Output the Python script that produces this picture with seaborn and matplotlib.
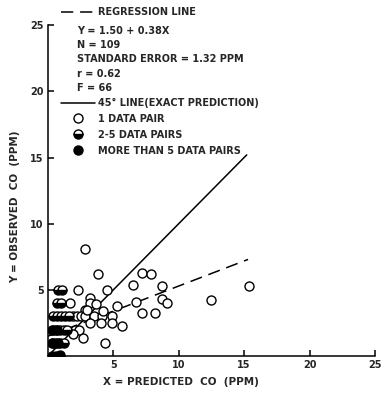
import matplotlib
matplotlib.use('Agg')
import matplotlib.pyplot as plt
import seaborn as sns
from matplotlib.lines import Line2D

# Single data pairs (open circles)
open_x = [2.8, 3.8, 2.3, 4.5, 1.7, 3.2, 3.2, 3.7, 2.8, 5.3, 6.5, 7.2, 7.85, 8.7,
          6.7, 8.7, 9.1, 7.2, 8.2, 12.5, 15.4, 5.7, 4.4, 2.65, 1.9, 2.2, 2.5,
          2.8, 3.5, 4.1, 4.9, 3.2, 4.05, 4.9, 2.1, 2.4, 3.0, 4.2, 1.9]
open_y = [8.1, 6.2, 5.0, 5.0, 4.0, 4.4, 4.0, 3.9, 3.5, 3.8, 5.4, 6.3, 6.2, 5.3,
          4.1, 4.3, 4.0, 3.25, 3.25, 4.2, 5.3, 2.3, 1.0, 1.4, 3.0, 3.0, 3.0,
          3.0, 3.0, 3.0, 3.0, 2.5, 2.5, 2.5, 2.0, 2.0, 3.5, 3.4, 1.7]

# 2-5 data pairs (half filled)
half_x = [0.8, 1.1, 0.7, 1.0, 0.4, 0.7, 1.0, 1.3, 1.6, 0.3, 0.6, 0.9, 1.2, 1.5,
          0.3, 0.6, 0.9, 1.2]
half_y = [5.0, 5.0, 4.0, 4.0, 3.0, 3.0, 3.0, 3.0, 3.0, 2.0, 2.0, 2.0, 2.0, 2.0,
          1.0, 1.0, 1.0, 1.0]

# more than 5 data pairs (filled)
full_x = [0.3, 0.6, 0.9, 0.4, 0.7, 0.4, 0.8]
full_y = [0.0, 0.0, 0.1, 2.0, 2.0, 1.0, 1.0]

# lines
reg_x = [0.0, 15.3]
reg_y = [1.5, 7.3]
exact_x = [0.0, 15.2]
exact_y = [0.0, 15.2]

ticks = [5, 10, 15, 20, 25]

sns.set_style('ticks')
plt.rcParams['font.family'] = ['DejaVu Sans']
plt.rcParams['font.weight'] = 'bold'

fig = plt.figure(figsize=(3.83, 3.93), dpi=100)
ax = fig.add_axes([0.125, 0.094, 0.854, 0.842])

lw = 1.1
dash = (0, (8, 4.5))
sns.lineplot(x=reg_x, y=reg_y, ax=ax, color='black', lw=lw, linestyle=dash)
sns.lineplot(x=exact_x, y=exact_y, ax=ax, color='black', lw=lw)

ms = 42
sns.scatterplot(x=open_x, y=open_y, ax=ax, s=ms, marker='o', facecolor='white',
                edgecolor='black', linewidth=1.0, zorder=3)
ax.plot(half_x, half_y, ls='none', marker='o', ms=6.5, fillstyle='bottom',
        mfc='black', mfcalt='white', mec='black', mew=1.0, zorder=4)
sns.scatterplot(x=full_x, y=full_y, ax=ax, s=ms, marker='o', color='black',
                edgecolor='black', linewidth=1.0, zorder=4)

ax.set_xlim(0, 25)
ax.set_ylim(0, 25)
ax.set_xticks(ticks)
ax.set_yticks(ticks)
ax.tick_params(direction='in', length=4, width=1.1, labelsize=7, pad=3, color='black')
for lab in ax.get_xticklabels() + ax.get_yticklabels():
    lab.set_fontweight('bold')
sns.despine(ax=ax)
for s in ['left', 'bottom']:
    ax.spines[s].set_linewidth(1.1)
    ax.spines[s].set_color('black')

ax.set_xlabel('X = PREDICTED  CO  (PPM)', fontsize=7.5, fontweight='bold')
ax.set_ylabel('Y = OBSERVED  CO  (PPM)', fontsize=7.5, fontweight='bold')
ax.xaxis.set_label_coords(0.407, -0.062)
ax.yaxis.set_label_coords(-0.085, 0.45)

fs = 7
leg1 = ax.legend(handles=[Line2D([], [], color='black', lw=lw, linestyle=dash)],
                 labels=['REGRESSION LINE'], loc='upper left', bbox_to_anchor=(0.04, 1.055),
                 frameon=False, borderpad=0, borderaxespad=0, handlelength=3.5,
                 handletextpad=0.3, prop={'size': fs, 'weight': 'bold'})
ax.add_artist(leg1)

stats = ['Y = 1.50 + 0.38X', 'N = 109', 'STANDARD ERROR = 1.32 PPM', 'r = 0.62', 'F = 66']
ax.text(0.089, 0.997, '\n'.join(stats), transform=ax.transAxes, va='top', ha='left',
        fontsize=fs, fontweight='bold', linespacing=1.52)

handles = [Line2D([], [], color='black', lw=lw),
           Line2D([], [], ls='none', marker='o', ms=6.5, mfc='white', mec='black', mew=1.0),
           Line2D([], [], ls='none', marker='o', ms=6.5, fillstyle='bottom', mfc='black',
                  mfcalt='white', mec='black', mew=1.0),
           Line2D([], [], ls='none', marker='o', ms=6.5, mfc='black', mec='black')]
labels = ['45\u00b0 LINE(EXACT PREDICTION)', '1 DATA PAIR', '2-5 DATA PAIRS',
          'MORE THAN 5 DATA PAIRS']
ax.legend(handles=handles, labels=labels, loc='upper left', bbox_to_anchor=(0.04, 0.78),
          frameon=False, borderpad=0, borderaxespad=0, handlelength=3.5,
          handletextpad=0.3, labelspacing=0.6, prop={'size': fs, 'weight': 'bold'})

fig.savefig('out.png', dpi=100)
